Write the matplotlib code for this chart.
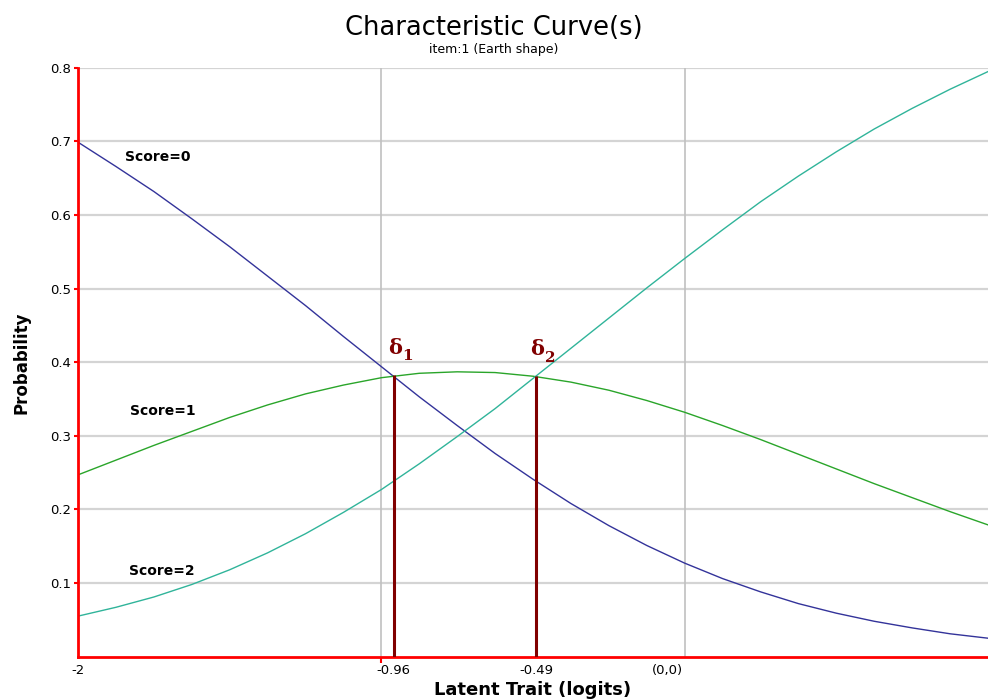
import matplotlib
matplotlib.use("Agg")
import matplotlib.pyplot as plt

# values
theta = [-2.0, -1.875, -1.75, -1.625, -1.5, -1.375, -1.25, -1.125, -1.0, -0.875,
         -0.75, -0.625, -0.5, -0.375, -0.25, -0.125, 0.0, 0.125, 0.25, 0.375,
         0.5, 0.625, 0.75, 0.875, 1.0]
p_score0 = [0.699, 0.666, 0.632, 0.595, 0.557, 0.517, 0.477, 0.435, 0.394, 0.353,
            0.314, 0.276, 0.241, 0.208, 0.178, 0.151, 0.127, 0.106, 0.088, 0.072,
            0.059, 0.048, 0.039, 0.031, 0.025]
p_score1 = [0.247, 0.267, 0.287, 0.306, 0.325, 0.342, 0.357, 0.369, 0.379, 0.385,
            0.387, 0.386, 0.381, 0.373, 0.362, 0.348, 0.332, 0.314, 0.295, 0.275,
            0.255, 0.235, 0.216, 0.197, 0.179]
p_score2 = [0.055, 0.067, 0.081, 0.098, 0.118, 0.141, 0.167, 0.196, 0.227, 0.262,
            0.299, 0.337, 0.378, 0.419, 0.460, 0.501, 0.541, 0.580, 0.618, 0.653,
            0.686, 0.717, 0.745, 0.771, 0.795]

deltas = [-0.96, -0.49]
delta_heights = [0.383, 0.381]
delta_names = ["1", "2"]

xtick_pos = [-2, -0.96, -0.49, -0.056]
xtick_labels = ["-2", "-0.96", "-0.49", "(0,0)"]
ytick_pos = [0.1, 0.2, 0.3, 0.4, 0.5, 0.6, 0.7, 0.8]

plt.rcParams["font.family"] = ["DejaVu Sans"]

fig = plt.figure(figsize=(9.88, 7.0), dpi=100)
ax = fig.add_axes([0.079, 0.062, 0.921, 0.841])

# grid
for y in ytick_pos:
    ax.axhline(y, color="#d4d4d4", lw=1.6, zorder=0)
for x in [-1, 0]:
    ax.axvline(x, color="#c0c0c0", lw=1.2, zorder=0)

ax.plot(theta, p_score0, color="#33339a", lw=1.0)
ax.plot(theta, p_score1, color="#2aa52a", lw=1.0)
ax.plot(theta, p_score2, color="#30b49a", lw=1.0)

# threshold lines
ax.vlines(deltas, 0, delta_heights, color="#800000", lw=2.2, zorder=3)
for d, h, n in zip(deltas, delta_heights, delta_names):
    ax.text(d + 0.004, h + 0.037, "\u03b4", color="#800000", fontsize=15,
            fontweight="bold", family="DejaVu Serif", ha="center", va="center")
    ax.text(d + 0.046, h + 0.025, n, color="#800000", fontsize=11,
            fontweight="bold", family="DejaVu Serif", ha="center", va="center")

ax.text(-1.845, 0.679, "Score=0", fontsize=10, fontweight="bold", va="center")
ax.text(-1.829, 0.334, "Score=1", fontsize=10, fontweight="bold", va="center")
ax.text(-1.832, 0.116, "Score=2", fontsize=10, fontweight="bold", va="center")

ax.set_xlim(-2, 1)
ax.set_ylim(0, 0.8)

for s in ["top", "right"]:
    ax.spines[s].set_visible(False)
for s in ["left", "bottom"]:
    ax.spines[s].set_color("#ff0000")
    ax.spines[s].set_linewidth(2.0)

ax.set_yticks(ytick_pos)
ax.set_yticklabels([f"{v:.1f}" for v in ytick_pos], fontsize=9.5)
ax.tick_params(axis="y", color="#ff0000", length=3, width=1.5, pad=2)

ax.set_xticks(xtick_pos)
ax.set_xticklabels(xtick_labels, fontsize=9.5)
ax.tick_params(axis="x", which="major", length=0, pad=5)
ax.set_xticks([-2, -1], minor=True)
ax.tick_params(axis="x", which="minor", color="#ff0000", length=4, width=1.5)

ax.set_xlabel("Latent Trait (logits)", fontsize=13, fontweight="bold", labelpad=3)
ax.set_ylabel("Probability", fontsize=12, fontweight="bold", labelpad=14)

fig.text(0.5, 0.950, "Characteristic Curve(s)", ha="center", va="baseline", fontsize=18.5)
fig.text(0.5, 0.924, "item:1 (Earth shape)", ha="center", va="baseline", fontsize=9)

fig.savefig("out.png", dpi=100)
